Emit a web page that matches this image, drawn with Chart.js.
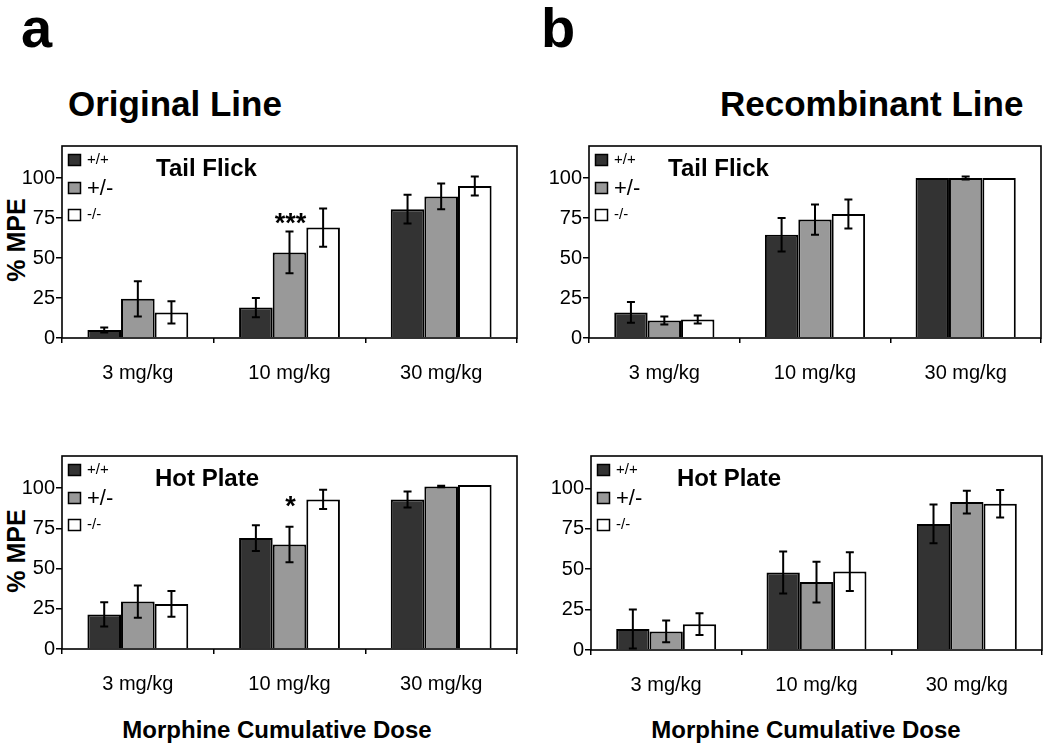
<!DOCTYPE html>
<html lang="en">
<head>
<meta charset="UTF-8">
<title>Morphine %MPE</title>
<style>
    body {
        margin: 0;
        padding: 0;
        width: 1050px;
        height: 744px;
        overflow: hidden;
        position: relative;
        background: #fff;
        font-family: "Liberation Sans", Arial, sans-serif;
    }
    .panel { position: absolute; }
    .lbl {
        position: absolute;
        font-weight: bold;
        color: #000;
        white-space: nowrap;
        line-height: 1;
    }
    .big { font-size: 56px; }
    .head { font-size: 35px; }
    .foot { font-size: 24px; transform: translateX(-50%); }
    .ylab {
        font-size: 25px;
        transform: translate(-50%, -50%) rotate(-90deg);
    }
</style>
</head>
<body>
<div class="lbl big" style="left:21px; top:0px;">a</div>
<div class="lbl big" style="left:541px; top:0px;">b</div>
<div class="lbl head" style="left:68px; top:86px;">Original Line</div>
<div class="lbl head" style="left:720px; top:86px;">Recombinant Line</div>
<div class="lbl ylab" style="left:16px; top:240px;">% MPE</div>
<div class="lbl ylab" style="left:16px; top:551px;">% MPE</div>
<div class="lbl foot" style="left:277px; top:718px;">Morphine Cumulative Dose</div>
<div class="lbl foot" style="left:806px; top:718px;">Morphine Cumulative Dose</div>

<script src="https://cdn.jsdelivr.net/npm/chart.js"></script>
<script>
// categories and series
const doses = ['3 mg/kg', '10 mg/kg', '30 mg/kg'];
const genotypes = ['+/+', '+/-', '-/-'];

// original line, tail flick
const origTailWt = [5, 19, 80.5];
const origTailWtErr = [1.5, 6, 9];
const origTailHet = [24.5, 53.5, 88.5];
const origTailHetErr = [11, 13, 8];
const origTailKo = [16, 69, 95];
const origTailKoErr = [7, 12, 6];
const origTailSig = ['', '***', ''];
const origTailSigAt = [0, 74, 0];

// recombinant line, tail flick
const recTailWt = [16, 64.5, 100];
const recTailWtErr = [6.5, 10.5, 0];
const recTailHet = [11, 74, 100];
const recTailHetErr = [2.5, 9.5, 1];
const recTailKo = [11.5, 77.5, 100];
const recTailKoErr = [2.5, 9, 0];

// original line, hot plate
const origHotWt = [21.5, 69, 93];
const origHotWtErr = [7.5, 8, 5];
const origHotHet = [29.5, 65, 101];
const origHotHetErr = [10, 11, 0.5];
const origHotKo = [28, 93, 102];
const origHotKoErr = [8, 6, 0];
const origHotSig = ['', '*', ''];
const origHotSigAt = [0, 91, 0];

// recombinant line, hot plate
const recHotWt = [13, 48, 78];
const recHotWtErr = [12, 13, 12];
const recHotHet = [11.5, 42, 91.5];
const recHotHetErr = [6.7, 12.6, 7];
const recHotKo = [16, 48.5, 90.5];
const recHotKoErr = [6.7, 12, 8.5];

const yTicks = [0, 25, 50, 75, 100];

const barColors = ['#333333', '#999999', '#ffffff'];
const legendFont = [15, 22, 15];

// box, error bars, legend, title, significance marks
const panelDecor = {
    id: 'panelDecor',
    afterDatasetsDraw(chart, args, opts) {
        const ctx = chart.ctx;
        const area = chart.chartArea;
        const y = chart.scales.y;
        ctx.save();
        ctx.strokeStyle = '#000';
        ctx.fillStyle = '#000';

        // error bars
        ctx.lineWidth = 2;
        chart.data.datasets.forEach((ds, di) => {
            const meta = chart.getDatasetMeta(di);
            meta.data.forEach((bar, i) => {
                const e = ds.errors[i];
                if (!e) return;
                const top = y.getPixelForValue(ds.data[i] + e);
                const bot = y.getPixelForValue(ds.data[i] - e);
                ctx.beginPath();
                ctx.moveTo(bar.x, top); ctx.lineTo(bar.x, bot);
                ctx.moveTo(bar.x - 4, top); ctx.lineTo(bar.x + 4, top);
                ctx.moveTo(bar.x - 4, bot); ctx.lineTo(bar.x + 4, bot);
                ctx.stroke();
            });
        });

        // significance
        if (opts.sig) {
            const meta = chart.getDatasetMeta(1);
            ctx.font = 'bold 27px "Liberation Sans", Arial, sans-serif';
            ctx.textAlign = 'center';
            ctx.textBaseline = 'middle';
            opts.sig.forEach((s, i) => {
                if (!s) return;
                ctx.fillText(s, meta.data[i].x + 1, y.getPixelForValue(opts.sigAt[i]) + 5);
            });
        }

        // frame
        ctx.lineWidth = 1.6;
        ctx.strokeRect(area.left, area.top, area.right - area.left, area.bottom - area.top);

        // legend
        ctx.textAlign = 'left';
        ctx.textBaseline = 'middle';
        ctx.lineWidth = 1.5;
        const rows = [14, 42, 69];
        chart.data.datasets.forEach((ds, di) => {
            const cy = area.top + rows[di];
            ctx.fillStyle = ds.backgroundColor;
            ctx.fillRect(area.left + 6.5, cy - 5.5, 12, 11);
            ctx.strokeRect(area.left + 6.5, cy - 5.5, 12, 11);
            ctx.fillStyle = '#000';
            ctx.font = legendFont[di] + 'px "Liberation Sans", Arial, sans-serif';
            ctx.fillText(ds.label, area.left + 25, cy + (di === 1 ? 1 : 0));
        });

        // panel title
        ctx.font = 'bold 24px "Liberation Sans", Arial, sans-serif';
        ctx.fillText(opts.title, area.left + opts.titleX, area.top + 23);
        ctx.restore();
    }
};

function makePanel(box, title, titleX, series, errs, sig, sigAt) {
    const holder = document.createElement('div');
    holder.className = 'panel';
    const w = box.right - box.left + 62 + 10;
    const h = box.bottom - box.top + 10 + 57;
    holder.style.left = (box.left - 62) + 'px';
    holder.style.top = (box.top - 10) + 'px';
    holder.style.width = w + 'px';
    holder.style.height = h + 'px';
    const canvas = document.createElement('canvas');
    holder.appendChild(canvas);
    document.body.appendChild(holder);

    new Chart(canvas.getContext('2d'), {
        type: 'bar',
        data: {
            labels: doses,
            datasets: genotypes.map((g, i) => ({
                label: g,
                data: series[i],
                errors: errs[i],
                backgroundColor: barColors[i],
                borderColor: '#000',
                borderWidth: 2,
                barPercentage: 1,
                categoryPercentage: 0.665
            }))
        },
        options: {
            responsive: true,
            maintainAspectRatio: false,
            animation: false,
            layout: { padding: { top: 10, right: 10, left: 0, bottom: 0 } },
            plugins: {
                legend: { display: false },
                tooltip: { enabled: false },
                panelDecor: { title: title, titleX: titleX, sig: sig, sigAt: sigAt }
            },
            scales: {
                x: {
                    grid: { drawOnChartArea: false, offset: true, tickLength: 5, color: '#000', lineWidth: 1.5 },
                    border: { display: false },
                    ticks: { color: '#000', padding: 18, font: { size: 20, family: '"Liberation Sans", Arial, sans-serif' } },
                    afterFit(scale) { scale.height = 57; }
                },
                y: {
                    min: 0,
                    max: 120,
                    grid: { drawOnChartArea: false, tickLength: 6, color: '#000', lineWidth: 1.5 },
                    border: { display: false },
                    ticks: { color: '#000', padding: 1, font: { size: 20, family: '"Liberation Sans", Arial, sans-serif' } },
                    afterBuildTicks(scale) { scale.ticks = yTicks.map(v => ({ value: v })); },
                    afterFit(scale) { scale.width = 62; }
                }
            }
        },
        plugins: [panelDecor]
    });
}

makePanel({ left: 62, top: 143, right: 517, bottom: 338 }, 'Tail Flick', 94,
    [origTailWt, origTailHet, origTailKo], [origTailWtErr, origTailHetErr, origTailKoErr],
    origTailSig, origTailSigAt);
makePanel({ left: 589, top: 143, right: 1041, bottom: 338 }, 'Tail Flick', 79,
    [recTailWt, recTailHet, recTailKo], [recTailWtErr, recTailHetErr, recTailKoErr]);
makePanel({ left: 62, top: 453, right: 517, bottom: 649 }, 'Hot Plate', 93,
    [origHotWt, origHotHet, origHotKo], [origHotWtErr, origHotHetErr, origHotKoErr],
    origHotSig, origHotSigAt);
makePanel({ left: 591, top: 453, right: 1042, bottom: 650 }, 'Hot Plate', 86,
    [recHotWt, recHotHet, recHotKo], [recHotWtErr, recHotHetErr, recHotKoErr]);
</script>
</body>
</html>
